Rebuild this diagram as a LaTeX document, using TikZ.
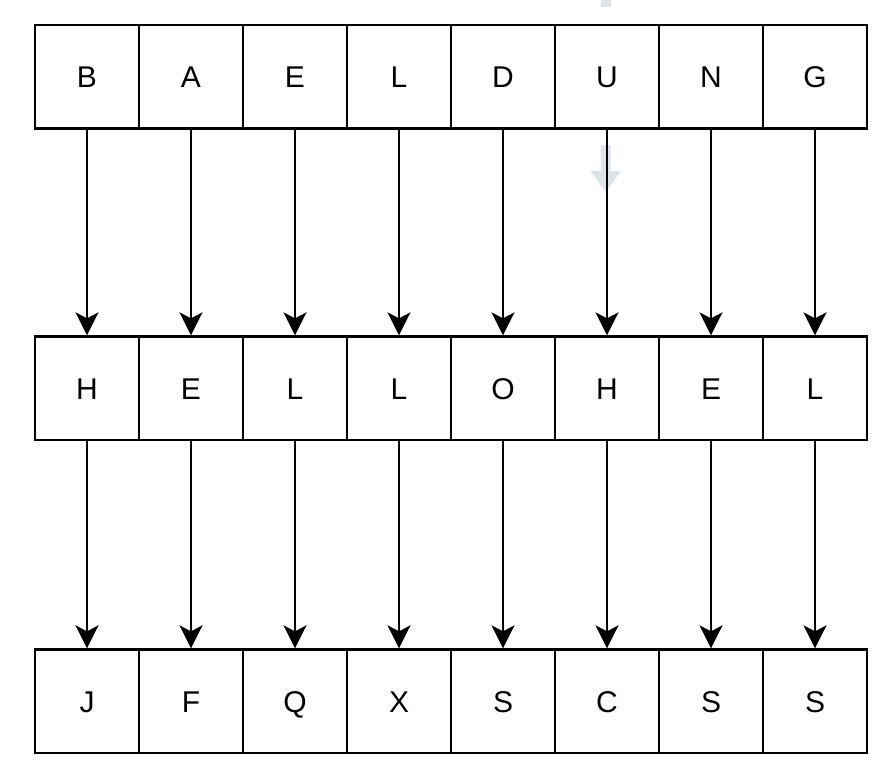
\documentclass[tikz,border=0pt]{standalone}
\usepackage{fontspec}
\setmainfont{Liberation Sans}
\usetikzlibrary{arrows.meta}
\definecolor{ghost}{HTML}{DDE4E9}
\tikzset{
  cell/.style={draw, line width=2.4pt, minimum width=104pt, minimum height=103.5pt,
    inner sep=0pt, text height=21.5pt, text depth=0pt, font=\fontsize{30}{36}\selectfont},
  link/.style={line width=2.4pt, -{Stealth[length=23pt,width=23pt,inset=6pt]}},
}
\begin{document}
\begin{tikzpicture}[x=1pt,y=-1pt]
\useasboundingbox (0,0) rectangle (888,776);

% faint marks behind
\fill[ghost] (600.7,0) rectangle (610.7,7);
\fill[ghost] (600.7,145) -- (610.7,145) -- (610.7,171) -- (621,171)
  -- (605.7,192) -- (590.5,171) -- (600.7,171) -- cycle;

% rows
\foreach \ch [count=\i] in {B,A,E,L,D,U,N,G}
  \node[cell] (key\i) at ({87+104*(\i-1)}, 76.7) {\ch};
\foreach \ch [count=\i] in {H,E,L,L,O,H,E,L}
  \node[cell] (msg\i) at ({87+104*(\i-1)}, 388.3) {\ch};
\foreach \ch [count=\i] in {J,F,Q,X,S,C,S,S}
  \node[cell] (enc\i) at ({87+104*(\i-1)}, 701.3) {\ch};

% arrows
\foreach \i in {1,...,8} {
  \draw[link] (key\i) -- (msg\i);
  \draw[link] (msg\i) -- (enc\i);
}
\end{tikzpicture}
\end{document}
